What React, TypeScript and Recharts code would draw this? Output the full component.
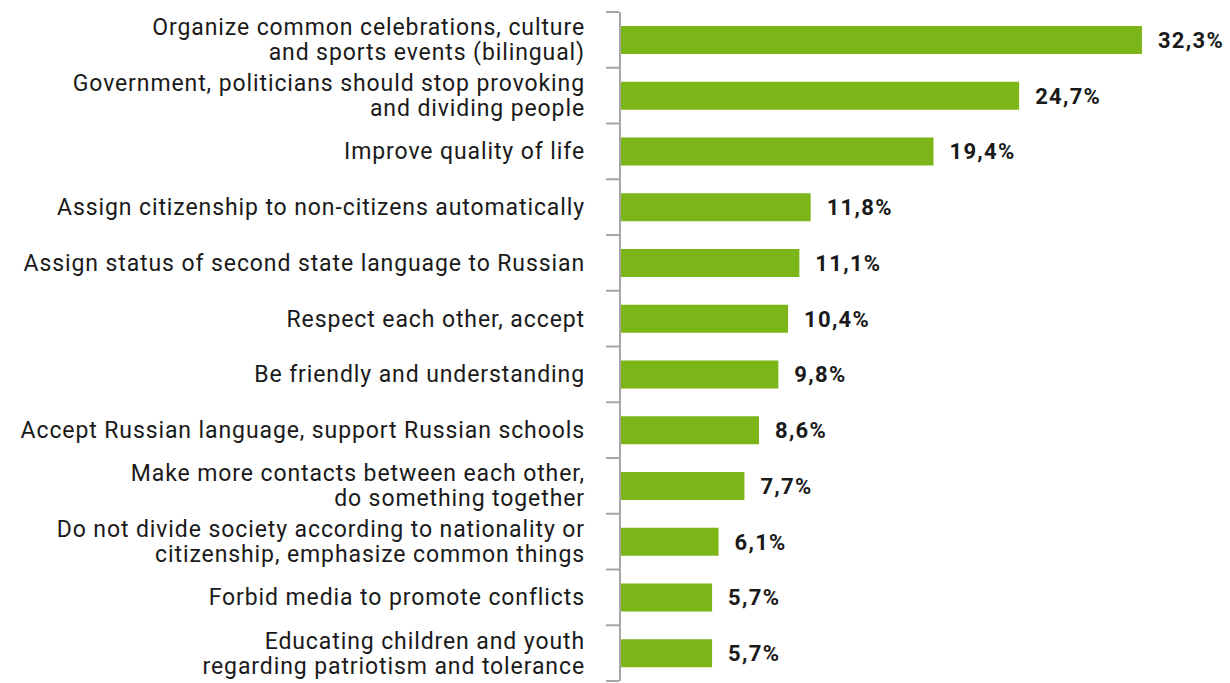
import React from "react";
import { BarChart, Bar, XAxis, YAxis, LabelList } from "recharts";

const categories: string[] = [
  "Organize common celebrations, culture\nand sports events (bilingual)",
  "Government, politicians should stop provoking\nand dividing people",
  "Improve quality of life",
  "Assign citizenship to non-citizens automatically",
  "Assign status of second state language to Russian",
  "Respect each other, accept",
  "Be friendly and understanding",
  "Accept Russian language, support Russian schools",
  "Make more contacts between each other,\ndo something together",
  "Do not divide society according to nationality or\ncitizenship, emphasize common things",
  "Forbid media to promote conflicts",
  "Educating children and youth\nregarding patriotism and tolerance",
];

const values: number[] = [32.3, 24.7, 19.4, 11.8, 11.1, 10.4, 9.8, 8.6, 7.7, 6.1, 5.7, 5.7];

const data = categories.map((c, i) => ({ name: c, value: values[i] }));

const W = 1230;
const H = 683;
const TOP = 12;
const BOTTOM = 2;
const AXIS_W = 620;
const GREEN = "#7cb518";
const GRAY = "#a6a6a6";
const FONT = "Roboto, 'DejaVu Sans', sans-serif";

const CategoryTick = (props: any) => {
  const { x, y, payload, index } = props;
  const band = (H - TOP - BOTTOM) / categories.length;
  const lines: string[] = String(payload.value).split("\n");
  const lh = 25;
  const startDy = -((lines.length - 1) * lh) / 2;
  const ax = x - 1;
  return (
    <g>
      <line x1={ax - 13} x2={ax} y1={y - band / 2} y2={y - band / 2} stroke={GRAY} strokeWidth={2} />
      {index === categories.length - 1 && (
        <line x1={ax - 13} x2={ax} y1={y + band / 2} y2={y + band / 2} stroke={GRAY} strokeWidth={2} />
      )}
      <text
        x={ax - 34}
        y={y}
        textAnchor="end"
        fontFamily={FONT}
        fontSize={23}
        letterSpacing={0.9}
        fill="#1a1a1a"
      >
        {lines.map((l, i) => (
          <tspan key={i} x={ax - 34} dy={i === 0 ? startDy + 8 : lh}>
            {l}
          </tspan>
        ))}
      </text>
    </g>
  );
};

export default function App() {
  return (
    <div style={{ position: "absolute", left: 0, top: 0, width: W, height: H, background: "#fff" }}>
      <BarChart
        width={W}
        height={H}
        data={data}
        layout="vertical"
        margin={{ top: TOP, right: 0, bottom: BOTTOM, left: 0 }}
      >
        <XAxis type="number" hide domain={[0, 37.75]} />
        <YAxis
          type="category"
          dataKey="name"
          width={AXIS_W}
          axisLine={{ stroke: GRAY, strokeWidth: 2 }}
          tickLine={false}
          tickSize={0}
          tickMargin={0}
          tick={<CategoryTick />}
          interval={0}
        />
        <Bar dataKey="value" fill={GREEN} barSize={28} isAnimationActive={false}>
          <LabelList
            dataKey="value"
            position="right"
            offset={16}
            formatter={(v: any) => String(v).replace(".", ",") + "%"}
            style={{ fontFamily: FONT, fontSize: 22, fontWeight: 700, fill: "#1a1a1a", letterSpacing: 1.3 }}
          />
        </Bar>
      </BarChart>
    </div>
  );
}
